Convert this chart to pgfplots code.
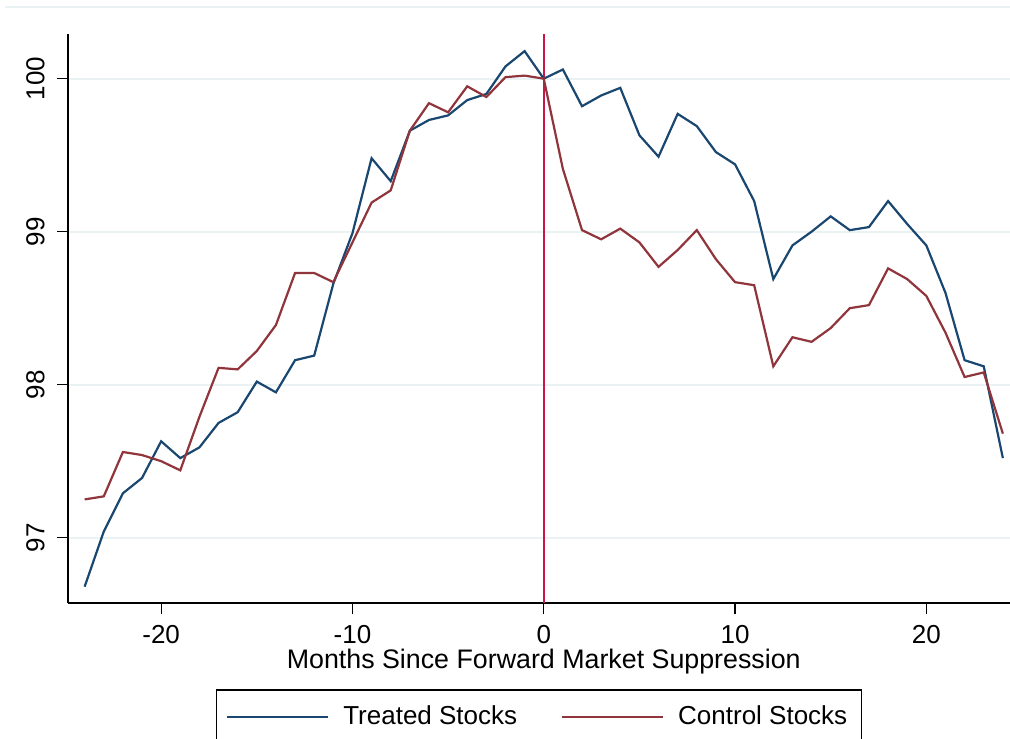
\documentclass[border=0pt]{standalone}
\usepackage{pgfplots}
\pgfplotsset{compat=1.18}
\usepackage{fontspec}
\setmainfont{Liberation Sans}
\definecolor{treated}{RGB}{26,71,111}
\definecolor{control}{RGB}{144,53,59}
\definecolor{vline}{RGB}{205,20,70}
\definecolor{gridc}{RGB}{234,242,243}
\newcommand{\f}{\fontsize{13}{15}\selectfont}
\newcommand{\fl}{\fontsize{13.4}{15}\selectfont}
\begin{document}
\begin{tikzpicture}
\draw[gridc, line width=1pt] (2.5pt,-3.65pt) -- (505pt,-3.65pt);
\begin{axis}[
  at={(34pt,-301.5pt)}, anchor=south west,
  scale only axis, width=475.75pt, height=284.35pt,
  xmin=-24.87, xmax=24.87, ymin=96.573, ymax=100.29,
  axis x line=bottom, axis y line=left,
  axis line style={-, line width=0.6pt, black},
  xtick={-20,-10,0,10,20}, ytick={97,98,99,100},
  tick align=outside, major tick length=5.5pt,
  tick style={black, line width=0.6pt},
  ymajorgrids, grid style={gridc, line width=1pt},
  /pgf/number format/assume math mode=true,
  tick label style={font=\f},
  xticklabel style={inner sep=0pt, anchor=north},
  xticklabel shift=5.5pt,
  yticklabel style={rotate=90, anchor=south, inner sep=0pt},
  yticklabel shift=6pt,
  xlabel={Months Since Forward Market Suppression},
  xlabel style={font=\fl, at={(axis description cs:0.5,0)}, anchor=base, inner sep=0pt, yshift=-32.5pt},
  legend columns=2,
  legend style={at={(axis description cs:0.15523,-0.15175)}, anchor=north west, font=\f,
    draw=black, line width=0.6pt, inner xsep=5pt, inner ysep=6pt,
    /tikz/every odd column/.append style={column sep=5pt},
    /tikz/every even column/.append style={column sep=20pt},
    cells={anchor=west}},
  legend image code/.code={\draw[#1, line width=1pt] (0pt,0pt) -- (50.5pt,0pt);},
]
\addplot[vline, line width=1pt, forget plot] coordinates {(0,96.573) (0,100.29)};
\addplot[treated, line width=1.1pt] coordinates {
(-24,96.68) (-23,97.04) (-22,97.29) (-21,97.39) (-20,97.63) (-19,97.52) (-18,97.59) (-17,97.75)
(-16,97.82) (-15,98.02) (-14,97.95) (-13,98.16) (-12,98.19) (-11,98.66) (-10,98.99) (-9,99.48)
(-8,99.33) (-7,99.66) (-6,99.73) (-5,99.76) (-4,99.86) (-3,99.90) (-2,100.08) (-1,100.18)
(0,100.00) (1,100.06) (2,99.82) (3,99.89) (4,99.94) (5,99.63) (6,99.49) (7,99.77)
(8,99.69) (9,99.52) (10,99.44) (11,99.20) (12,98.69) (13,98.91) (14,99.00) (15,99.10)
(16,99.01) (17,99.03) (18,99.20) (19,99.05) (20,98.91) (21,98.60) (22,98.16) (23,98.12) (24,97.52)};
\addlegendentry{Treated Stocks}
\addplot[control, line width=1.1pt] coordinates {
(-24,97.25) (-23,97.27) (-22,97.56) (-21,97.54) (-20,97.50) (-19,97.44) (-18,97.79) (-17,98.11)
(-16,98.10) (-15,98.22) (-14,98.39) (-13,98.73) (-12,98.73) (-11,98.67) (-10,98.93) (-9,99.19)
(-8,99.27) (-7,99.66) (-6,99.84) (-5,99.78) (-4,99.95) (-3,99.88) (-2,100.01) (-1,100.02)
(0,100.00) (1,99.41) (2,99.01) (3,98.95) (4,99.02) (5,98.93) (6,98.77) (7,98.88)
(8,99.01) (9,98.82) (10,98.67) (11,98.65) (12,98.12) (13,98.31) (14,98.28) (15,98.37)
(16,98.50) (17,98.52) (18,98.76) (19,98.69) (20,98.58) (21,98.34) (22,98.05) (23,98.08) (24,97.68)};
\addlegendentry{Control Stocks}
\end{axis}
\pgfresetboundingbox
\useasboundingbox (0pt,0pt) rectangle (505pt,-369pt);
\end{tikzpicture}
\end{document}
